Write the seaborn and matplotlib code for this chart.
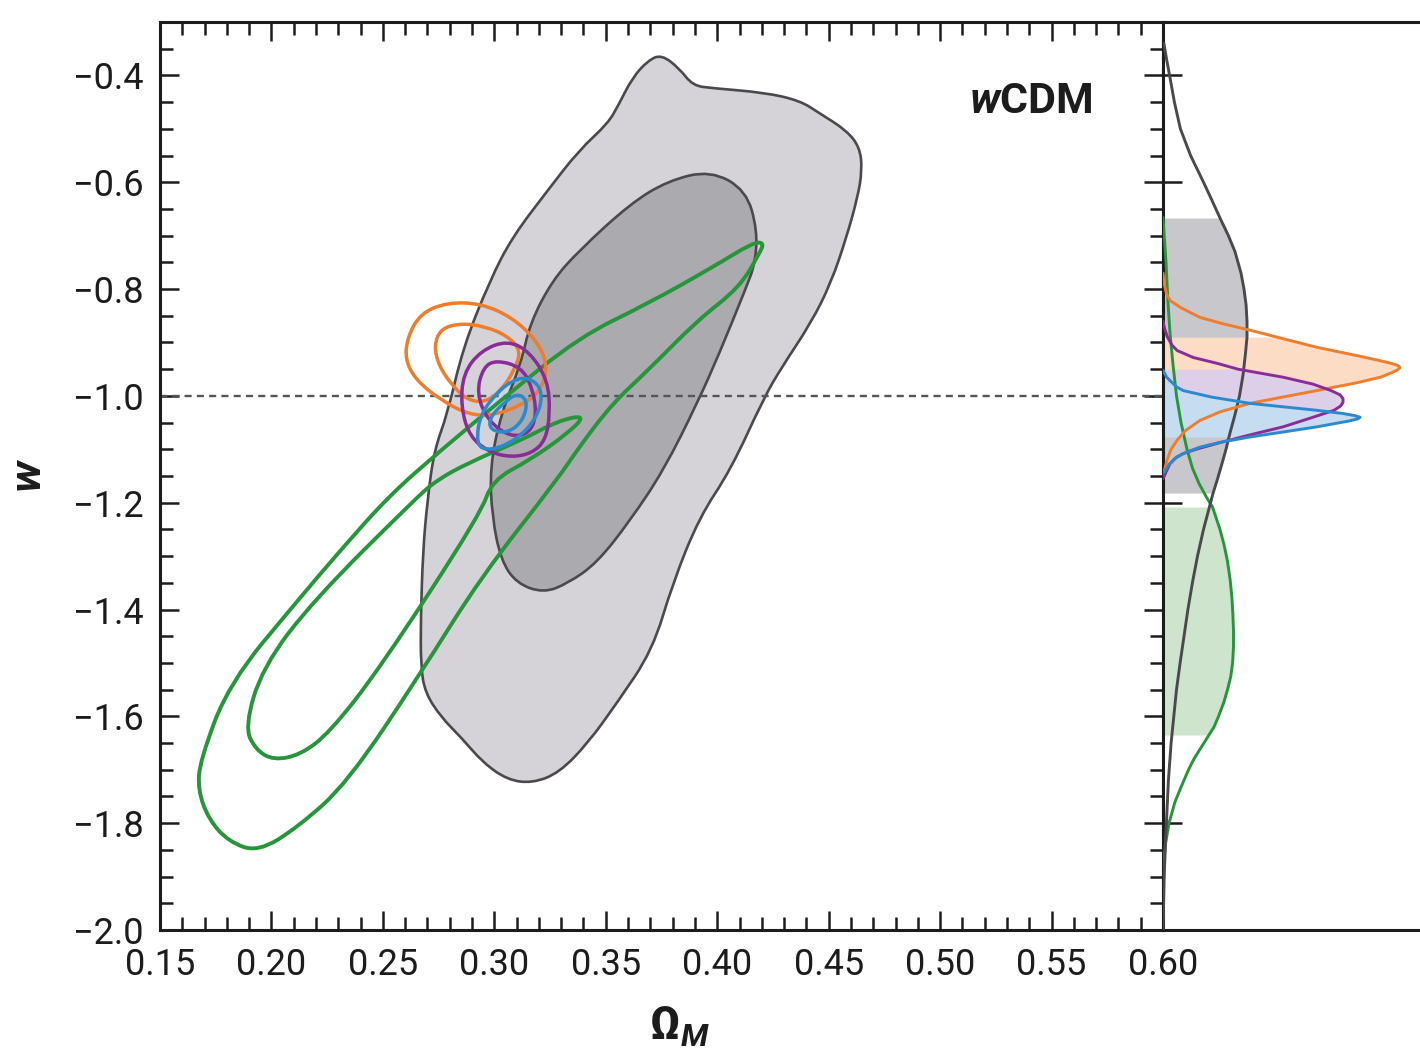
import numpy as np
import matplotlib
matplotlib.use("Agg")
import matplotlib.pyplot as plt
from matplotlib.path import Path
from matplotlib.patches import PathPatch
from matplotlib.ticker import MultipleLocator, FuncFormatter, NullLocator
import seaborn as sns
import pandas as pd

# ---------------- data: 2D confidence contours (Omega_M, w) ----------------
gray_outer_x = [0.375, 0.383, 0.389, 0.398, 0.421, 0.437, 0.446, 0.458, 0.464, 0.465, 0.463, 0.458,
                0.451, 0.442, 0.429, 0.421, 0.406, 0.392, 0.380, 0.371, 0.355, 0.342, 0.329, 0.317,
                0.306, 0.295, 0.285, 0.276, 0.269, 0.267, 0.267, 0.268, 0.270, 0.273, 0.279, 0.286,
                0.298, 0.308, 0.324, 0.338, 0.351, 0.356, 0.362, 0.369]
gray_outer_y = [-0.361, -0.387, -0.419, -0.424, -0.432, -0.447, -0.471, -0.503, -0.535, -0.578, -0.628, -0.703,
                -0.789, -0.864, -0.946, -1.003, -1.139, -1.227, -1.351, -1.476, -1.575, -1.650, -1.706, -1.725,
                -1.719, -1.687, -1.639, -1.601, -1.556, -1.507, -1.414, -1.289, -1.195, -1.102, -1.033, -0.909,
                -0.784, -0.703, -0.615, -0.540, -0.490, -0.453, -0.404, -0.372]

gray_inner_x = [0.397, 0.413, 0.418, 0.417, 0.413, 0.401, 0.391, 0.376, 0.361, 0.346, 0.333, 0.322,
                0.310, 0.303, 0.299, 0.298, 0.303, 0.312, 0.316, 0.326, 0.338, 0.361, 0.378]
gray_inner_y = [-0.578, -0.615, -0.690, -0.752, -0.797, -0.920, -1.014, -1.139, -1.233, -1.313, -1.351, -1.369,
                -1.351, -1.308, -1.227, -1.134, -1.033, -0.939, -0.864, -0.784, -0.728, -0.640, -0.597]

green_outer_x = [0.421, 0.419, 0.410, 0.391, 0.369, 0.353, 0.338, 0.328, 0.294, 0.267, 0.234, 0.212, 0.194,
                 0.181, 0.172, 0.167, 0.168, 0.181, 0.212, 0.231, 0.253, 0.276, 0.303, 0.338, 0.369, 0.398, 0.416]
green_outer_y = [-0.713, -0.733, -0.797, -0.859, -0.952, -1.014, -1.096, -1.158, -1.339, -1.519, -1.725, -1.807, -1.854,
                 -1.835, -1.794, -1.738, -1.682, -1.538, -1.382, -1.289, -1.186, -1.102, -1.008, -0.890, -0.827, -0.759, -0.713]

green_inner_x = [0.341, 0.329, 0.312, 0.289, 0.274, 0.264, 0.219, 0.196, 0.188, 0.193, 0.201, 0.213,
                 0.226, 0.249, 0.294, 0.299, 0.316, 0.333]
green_inner_y = [-1.036, -1.046, -1.083, -1.124, -1.158, -1.195, -1.382, -1.508, -1.620, -1.663, -1.682, -1.672,
                 -1.631, -1.508, -1.220, -1.158, -1.120, -1.070]

orange_outer_x = [0.261, 0.267, 0.279, 0.294, 0.308, 0.319, 0.324, 0.321, 0.312, 0.300, 0.289, 0.276, 0.265, 0.260]
orange_outer_y = [-0.890, -0.845, -0.825, -0.827, -0.853, -0.896, -0.943, -0.990, -1.018, -1.036, -1.036, -1.008, -0.971, -0.933]
orange_inner_x = [0.273, 0.276, 0.285, 0.296, 0.306, 0.312, 0.309, 0.303, 0.296, 0.288, 0.281, 0.275]
orange_inner_y = [-0.905, -0.874, -0.864, -0.870, -0.888, -0.915, -0.952, -0.990, -1.012, -1.008, -0.980, -0.943]

purple_outer_x = [0.294, 0.306, 0.316, 0.324, 0.325, 0.323, 0.317, 0.308, 0.298, 0.289, 0.285, 0.286]
purple_outer_y = [-0.915, -0.896, -0.918, -0.971, -1.033, -1.083, -1.107, -1.115, -1.106, -1.077, -1.021, -0.958]
purple_inner_x = [0.295, 0.301, 0.312, 0.317, 0.319, 0.316, 0.307, 0.297, 0.292]
purple_inner_y = [-0.946, -0.933, -0.946, -0.984, -1.033, -1.070, -1.077, -1.046, -0.995]

blue_outer_x = [0.308, 0.315, 0.321, 0.321, 0.315, 0.304, 0.294, 0.292, 0.294, 0.301]
blue_outer_y = [-0.971, -0.965, -0.984, -1.021, -1.064, -1.096, -1.102, -1.077, -1.033, -0.995]
blue_inner_x = [0.310, 0.315, 0.313, 0.306, 0.298, 0.298, 0.304]
blue_inner_y = [-0.995, -1.008, -1.046, -1.070, -1.064, -1.040, -1.014]

w_reference = -1.0

# ---------------- data: 1D marginals of w ----------------
gray_w = [-0.34, -0.37, -0.40, -0.45, -0.50, -0.55, -0.60, -0.63, -0.667, -0.70, -0.73, -0.77, -0.80, -0.83,
          -0.86, -0.89, -0.92, -0.96, -1.00, -1.035, -1.07, -1.10, -1.13, -1.155, -1.182, -1.25, -1.30,
          -1.35, -1.40, -1.45, -1.50, -1.55, -1.60, -1.65, -1.72, -1.78, -1.84, -1.90, -2.00]
gray_p = [0.003, 0.012, 0.022, 0.038, 0.058, 0.092, 0.135, 0.160, 0.190, 0.218, 0.240, 0.260, 0.270, 0.277,
          0.280, 0.280, 0.275, 0.267, 0.255, 0.240, 0.223, 0.210, 0.195, 0.182, 0.167, 0.135, 0.115,
          0.098, 0.083, 0.070, 0.057, 0.045, 0.036, 0.027, 0.018, 0.013, 0.008, 0.004, 0.0]
gray_band = (-0.667, -1.182)

green_w = [-0.666, -0.75, -0.82, -0.88, -0.94, -1.00, -1.05, -1.10, -1.135, -1.164, -1.19, -1.208, -1.25,
           -1.28, -1.31, -1.345, -1.38, -1.41, -1.44, -1.47, -1.50, -1.525, -1.55, -1.575, -1.60, -1.62,
           -1.635, -1.66, -1.68, -1.70, -1.73, -1.76, -1.80, -1.84, -1.875, -1.95]
green_p = [0.0, 0.010, 0.016, 0.023, 0.033, 0.045, 0.060, 0.080, 0.098, 0.120, 0.145, 0.165, 0.190,
           0.204, 0.215, 0.224, 0.230, 0.233, 0.235, 0.235, 0.232, 0.226, 0.215, 0.202, 0.185, 0.170,
           0.153, 0.125, 0.103, 0.085, 0.062, 0.040, 0.020, 0.008, 0.003, 0.0]
green_band = (-1.208, -1.635)

orange_w = [-0.77, -0.79, -0.81, -0.822, -0.835, -0.853, -0.865, -0.877, -0.89, -0.909, -0.925, -0.933,
            -0.939, -0.943, -0.947, -0.951, -0.956, -0.965, -0.975, -0.990, -1.00, -1.014, -1.030,
            -1.046, -1.065, -1.083, -1.10, -1.121, -1.15]
orange_p = [0.0, 0.004, 0.012, 0.025, 0.060, 0.123, 0.200, 0.290, 0.380, 0.513, 0.650, 0.715,
            0.760, 0.783, 0.790, 0.783, 0.765, 0.725, 0.650, 0.513, 0.420, 0.290, 0.190,
            0.123, 0.075, 0.047, 0.027, 0.013, 0.0]
orange_band = (-0.89, -1.00)

purple_w = [-0.86, -0.875, -0.89, -0.905, -0.915, -0.928, -0.939, -0.95, -0.965, -0.978, -0.990, -0.998,
            -1.005, -1.012, -1.019, -1.027, -1.04, -1.058, -1.073, -1.089, -1.100, -1.108, -1.117,
            -1.127, -1.155]
purple_p = [0.0, 0.006, 0.015, 0.030, 0.047, 0.100, 0.180, 0.250, 0.400, 0.500, 0.560, 0.590,
            0.600, 0.600, 0.592, 0.570, 0.500, 0.400, 0.290, 0.180, 0.110, 0.067, 0.040,
            0.023, 0.0]
purple_band = (-0.95, -1.058)

blue_w = [-0.952, -0.965, -0.975, -0.983, -0.990, -1.002, -1.014, -1.027, -1.033, -1.037, -1.040, -1.043,
          -1.047, -1.058, -1.077, -1.087, -1.096, -1.105, -1.114, -1.13, -1.145]
blue_p = [0.0, 0.012, 0.030, 0.045, 0.067, 0.160, 0.290, 0.513, 0.600, 0.640, 0.657, 0.650,
          0.620, 0.513, 0.290, 0.190, 0.123, 0.080, 0.047, 0.018, 0.0]
blue_band = (-0.975, -1.077)

x_ticks_step, x_minor_step = 0.05, 0.01
y_ticks_step, y_minor_step = 0.2, 0.05

# ---------------- style ----------------
sns.set_theme(style="ticks")
plt.rcParams["font.family"] = ["Roboto", "DejaVu Sans"]
plt.rcParams["mathtext.fontset"] = "custom"
plt.rcParams["mathtext.rm"] = "Roboto"
plt.rcParams["mathtext.bf"] = "Roboto:bold"
plt.rcParams["mathtext.it"] = "Roboto:italic"
plt.rcParams["mathtext.bfit"] = "Roboto:italic:bold"
plt.rcParams["axes.linewidth"] = 2.2
plt.rcParams["axes.edgecolor"] = "#1c1c1c"

C_GREEN = "#26963a"
C_ORANGE = "#ef7d2b"
C_PURPLE = "#8a2c97"
C_BLUE = "#2a8ad0"
C_EDGE = "#4a4a4e"
C_FILL_OUT = "#d5d3d8"
C_FILL_IN = "#abaaae"


def smooth_closed(xs, ys):
    P = np.column_stack([xs, ys])
    M = (P + np.roll(P, -1, axis=0)) / 2.0
    verts = [M[-1]]
    codes = [Path.MOVETO]
    for i in range(len(P)):
        verts += [P[i], M[i]]
        codes += [Path.CURVE3, Path.CURVE3]
    verts.append(M[-1])
    codes.append(Path.CLOSEPOLY)
    return Path(verts, codes)


fig = plt.figure(figsize=(14.2, 10.53), dpi=100)
ax = fig.add_axes([160 / 1420, 123 / 1053, 1003 / 1420, 908 / 1053])
axm = fig.add_axes([1163 / 1420, 123 / 1053, 300 / 1420, 908 / 1053])

# gray (filled) contours
ax.add_patch(PathPatch(smooth_closed(gray_outer_x, gray_outer_y), fc=C_FILL_OUT, ec=C_EDGE, lw=1.9, zorder=1))
ax.add_patch(PathPatch(smooth_closed(gray_inner_x, gray_inner_y), fc=C_FILL_IN, ec=C_EDGE, lw=1.9, zorder=1.1))

ax.axhline(w_reference, color="#555555", lw=1.7, ls=(0, (3, 2.2)), zorder=2)

for xs, ys, col, lw in [
    (green_outer_x, green_outer_y, C_GREEN, 2.8),
    (green_inner_x, green_inner_y, C_GREEN, 2.8),
    (orange_outer_x, orange_outer_y, C_ORANGE, 2.5),
    (orange_inner_x, orange_inner_y, C_ORANGE, 2.5),
    (purple_outer_x, purple_outer_y, C_PURPLE, 2.5),
    (purple_inner_x, purple_inner_y, C_PURPLE, 2.5),
    (blue_outer_x, blue_outer_y, C_BLUE, 2.5),
    (blue_inner_x, blue_inner_y, C_BLUE, 2.5),
]:
    ax.add_patch(PathPatch(smooth_closed(xs, ys), fc="none", ec=col, lw=lw, zorder=3))

ax.set_xlim(0.15, 0.60)
ax.set_ylim(-2.0, -0.30)
ax.xaxis.set_major_locator(MultipleLocator(x_ticks_step))
ax.xaxis.set_minor_locator(MultipleLocator(x_minor_step))
ax.yaxis.set_major_locator(MultipleLocator(y_ticks_step))
ax.yaxis.set_minor_locator(MultipleLocator(y_minor_step))
ax.xaxis.set_major_formatter(FuncFormatter(lambda v, p: f"{v:.2f}"))
ax.yaxis.set_major_formatter(FuncFormatter(lambda v, p: f"{v:.1f}".replace("-", "\u2212")))
ax.tick_params(which="both", direction="in", top=True, right=True, width=1.8, color="#1c1c1c",
               labelsize=26, pad=12, labelcolor="#1c1c1c")
ax.tick_params(which="major", length=14)
ax.tick_params(which="minor", length=9.5)

ax.set_xlabel(r"$\mathbf{\Omega}_{\mathbfit{M}}$", fontsize=33, color="#1c1c1c")
ax.xaxis.set_label_coords(0.518, -0.082)
ax.set_ylabel(r"$\mathbfit{w}$", fontsize=32, color="#1c1c1c")
ax.yaxis.set_label_coords(-0.110, 0.5)
ax.text(0.930, 0.900, r"$\mathbfit{w}$CDM", transform=ax.transAxes, ha="right", va="baseline",
        fontsize=31, fontweight="bold", color="#1c1c1c")

# ---------------- marginal panel ----------------
bands = [
    (gray_w, gray_p, gray_band, "#c8c7cb"),
    (green_w, green_p, green_band, "#cfe4cd"),
    (orange_w, orange_p, orange_band, "#fcdcc5"),
    (purple_w, purple_p, purple_band, "#ddcfe7"),
    (blue_w, blue_p, blue_band, "#c5dcf1"),
]
for w, p, (hi, lo), col in bands:
    w_arr = np.array(w)
    p_arr = np.array(p)
    mask = (w_arr <= hi + 1e-9) & (w_arr >= lo - 1e-9)
    axm.fill_betweenx(w_arr[mask], 0, p_arr[mask], color=col, lw=0, zorder=1)

for w, p, col in [
    (green_w, green_p, C_GREEN),
    (gray_w, gray_p, C_EDGE),
    (orange_w, orange_p, C_ORANGE),
    (purple_w, purple_p, C_PURPLE),
    (blue_w, blue_p, C_BLUE),
]:
    df = pd.DataFrame({"w": w, "p": p})
    sns.lineplot(data=df, x="p", y="w", orient="y", sort=False, estimator=None,
                 color=col, lw=2.1, ax=axm, zorder=3)

axm.set_xlim(0, 1)
axm.set_ylim(-2.0, -0.30)
axm.spines["right"].set_visible(False)
axm.set_xticks([])
axm.yaxis.set_major_locator(MultipleLocator(y_ticks_step))
axm.yaxis.set_minor_locator(NullLocator())
axm.tick_params(axis="y", which="major", direction="in", length=14, width=1.8, color="#1c1c1c",
                labelleft=False, left=True)
axm.set_xlabel("")
axm.set_ylabel("")

fig.savefig("out.png", dpi=100)
